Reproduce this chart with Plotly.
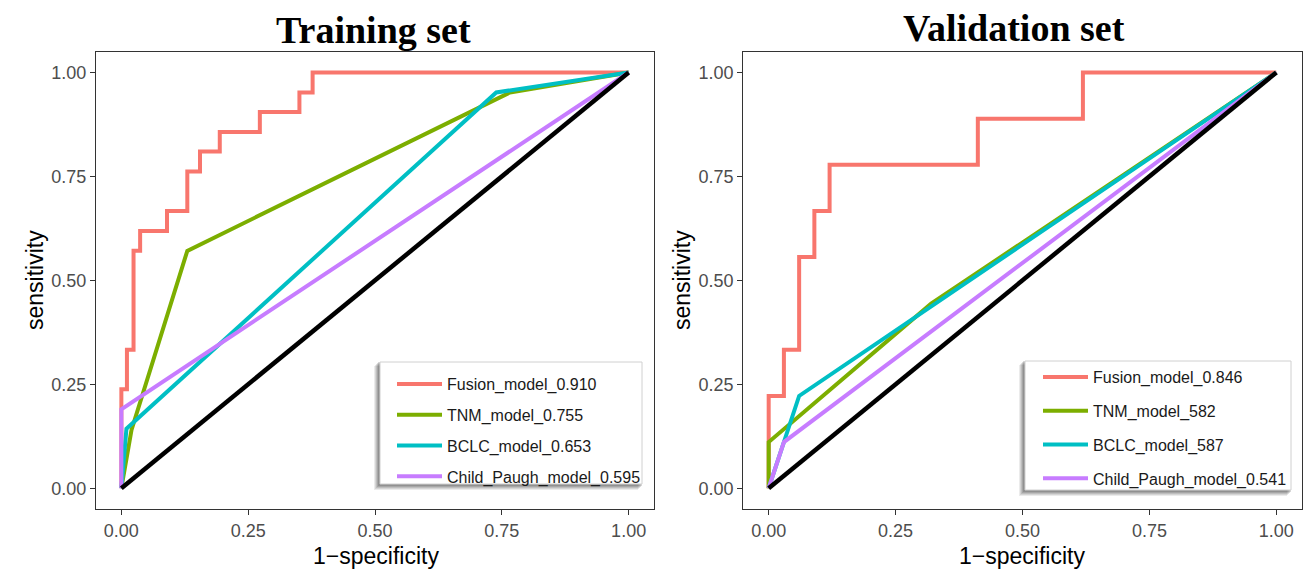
import plotly.graph_objects as go

W, H = 1312, 573

model_names_train = ["Fusion_model_0.910", "TNM_model_0.755", "BCLC_model_0.653", "Child_Paugh_model_0.595"]
model_names_valid = ["Fusion_model_0.846", "TNM_model_582", "BCLC_model_587", "Child_Paugh_model_0.541"]
colors = ["#F8766D", "#7CAE00", "#00BFC4", "#C77CFF"]

# Training set ROC points (1-specificity, sensitivity)
train_fusion_x = [0, 0, 0.011, 0.011, 0.024, 0.024, 0.037, 0.037, 0.090, 0.090, 0.130, 0.130, 0.155, 0.155,
                  0.194, 0.194, 0.273, 0.273, 0.351, 0.351, 0.377, 0.377, 1.0]
train_fusion_y = [0, 0.238, 0.238, 0.333, 0.333, 0.571, 0.571, 0.619, 0.619, 0.667, 0.667, 0.762, 0.762, 0.810,
                  0.810, 0.857, 0.857, 0.905, 0.905, 0.952, 0.952, 1.0, 1.0]
train_tnm_x = [0, 0.02, 0.13, 0.766, 1.0]
train_tnm_y = [0, 0.14, 0.571, 0.952, 1.0]
train_bclc_x = [0, 0.010, 0.739, 1.0]
train_bclc_y = [0, 0.143, 0.952, 1.0]
train_cp_x = [0, 0, 1.0]
train_cp_y = [0, 0.190, 1.0]

# Validation set ROC points
valid_fusion_x = [0, 0, 0.03, 0.03, 0.06, 0.06, 0.09, 0.09, 0.12, 0.12, 0.412, 0.412, 0.619, 0.619, 1.0]
valid_fusion_y = [0, 0.222, 0.222, 0.333, 0.333, 0.556, 0.556, 0.667, 0.667, 0.778, 0.778, 0.889, 0.889, 1.0, 1.0]
valid_tnm_x = [0, 0, 0.32, 1.0]
valid_tnm_y = [0, 0.111, 0.444, 1.0]
valid_bclc_x = [0, 0.03, 0.06, 1.0]
valid_bclc_y = [0, 0.111, 0.222, 1.0]
valid_cp_x = [0, 0.03, 1.0]
valid_cp_y = [0, 0.111, 1.0]

diag_x = [0, 1]
diag_y = [0, 1]

tick_vals = [0, 0.25, 0.5, 0.75, 1.0]
tick_text = ["0.00", "0.25", "0.50", "0.75", "1.00"]

train_sets = [(train_fusion_x, train_fusion_y), (train_tnm_x, train_tnm_y),
              (train_bclc_x, train_bclc_y), (train_cp_x, train_cp_y)]
valid_sets = [(valid_fusion_x, valid_fusion_y), (valid_tnm_x, valid_tnm_y),
              (valid_bclc_x, valid_bclc_y), (valid_cp_x, valid_cp_y)]

fig = go.Figure()

for i, (xs, ys) in enumerate(train_sets):
    fig.add_trace(go.Scatter(x=xs, y=ys, mode="lines", name=model_names_train[i],
                             line=dict(color=colors[i], width=4), xaxis="x", yaxis="y",
                             legend="legend", legendgroup="t%d" % i))
fig.add_trace(go.Scatter(x=diag_x, y=diag_y, mode="lines", line=dict(color="black", width=4.5),
                         showlegend=False, xaxis="x", yaxis="y"))

for i, (xs, ys) in enumerate(valid_sets):
    fig.add_trace(go.Scatter(x=xs, y=ys, mode="lines", name=model_names_valid[i],
                             line=dict(color=colors[i], width=4), xaxis="x2", yaxis="y2",
                             legend="legend2", legendgroup="v%d" % i))
fig.add_trace(go.Scatter(x=diag_x, y=diag_y, mode="lines", line=dict(color="black", width=4.5),
                         showlegend=False, xaxis="x2", yaxis="y2"))

def px_x(p):
    return p / W

def px_y(p):
    return 1 - p / H

axis_common = dict(range=[-0.05, 1.05], showgrid=False, zeroline=False, showline=True, mirror=True,
                   linecolor="#333333", linewidth=1.2, ticks="outside", ticklen=5, tickwidth=1.2,
                   tickcolor="#333333", tickvals=tick_vals, ticktext=tick_text,
                   tickfont=dict(family="Liberation Sans, Arial", size=18, color="#4d4d4d"))

ydom = [px_y(509), px_y(51.7)]
fig.update_layout(
    width=W, height=H, margin=dict(l=0, r=0, t=0, b=0),
    paper_bgcolor="white", plot_bgcolor="white",
    xaxis=dict(domain=[px_x(96), px_x(654)], anchor="y", **axis_common),
    yaxis=dict(domain=ydom, anchor="x", **axis_common),
    xaxis2=dict(domain=[px_x(743.3), px_x(1301.7)], anchor="y2", **axis_common),
    yaxis2=dict(domain=ydom, anchor="x2", **axis_common),
    legend=dict(x=px_x(392), y=px_y(367), xanchor="left", yanchor="top", bgcolor="rgba(0,0,0,0)",
                font=dict(family="Liberation Sans, Arial", size=16, color="#1a1a1a"),
                tracegroupgap=7, itemwidth=45),
    legend2=dict(x=px_x(1038), y=px_y(360), xanchor="left", yanchor="top", bgcolor="rgba(0,0,0,0)",
                 font=dict(family="Liberation Sans, Arial", size=16, color="#1a1a1a"),
                 tracegroupgap=10, itemwidth=45),
    showlegend=True,
)

# Legend boxes with soft shadow
shapes = []
def legend_box(x0, y0, x1, y1):
    for k, op in [(6, 0.10), (5, 0.12), (4, 0.15), (3, 0.18), (2, 0.2)]:
        shapes.append(dict(type="rect", xref="paper", yref="paper",
                           x0=px_x(x0 - k), x1=px_x(x1 - k + 2), y0=px_y(y1 + k), y1=px_y(y0 + k - 2),
                           fillcolor="rgba(60,60,60,%.2f)" % op, line=dict(width=0), layer="above"))
    shapes.append(dict(type="rect", xref="paper", yref="paper",
                       x0=px_x(x0), x1=px_x(x1), y0=px_y(y1), y1=px_y(y0),
                       fillcolor="white", line=dict(color="#d0d0d0", width=1), layer="above"))
legend_box(380, 362, 642, 484)
legend_box(1025, 361, 1291, 490)
fig.update_layout(shapes=shapes)

ann = []
title_font = dict(family="Liberation Serif, Times New Roman", size=38, color="black")
ann.append(dict(text="<b>Training set</b>", x=px_x(374), y=px_y(30), xref="paper", yref="paper",
                xanchor="center", yanchor="middle", showarrow=False, font=title_font))
ann.append(dict(text="<b>Validation set</b>", x=px_x(1014), y=px_y(28), xref="paper", yref="paper",
                xanchor="center", yanchor="middle", showarrow=False, font=title_font))
for cx in [376, 1022]:
    ann.append(dict(text="1\u2212specificity", x=px_x(cx), y=px_y(556), xref="paper", yref="paper",
                    xanchor="center", yanchor="middle", showarrow=False,
                    font=dict(family="Liberation Sans, Arial", size=23, color="black")))
for cx in [35, 682]:
    ann.append(dict(text="sensitivity", x=px_x(cx), y=px_y(280), xref="paper", yref="paper",
                    xanchor="center", yanchor="middle", showarrow=False, textangle=-90,
                    font=dict(family="Liberation Sans, Arial", size=23, color="black")))
fig.update_layout(annotations=ann)

fig.write_html("out.html")
